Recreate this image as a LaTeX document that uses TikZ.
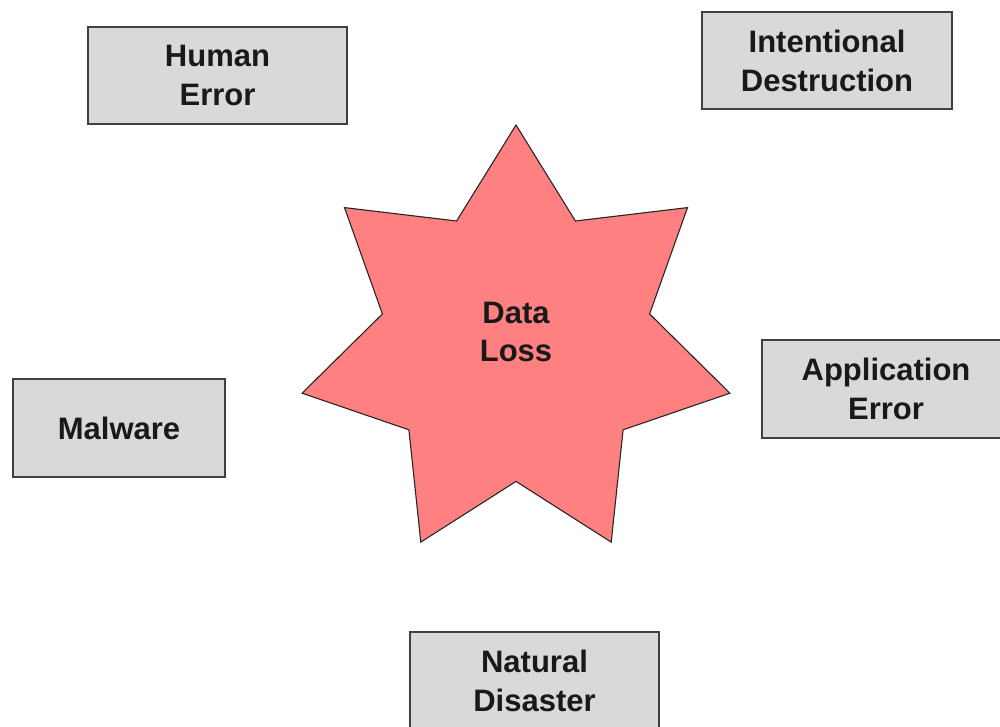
\documentclass[tikz,border=0pt]{standalone}
\usepackage{fontspec}
\setmainfont{Liberation Sans}
\definecolor{starred}{HTML}{FF8080}
\begin{document}
\begin{tikzpicture}[x=1pt,y=-1pt,
  causebox/.style={draw=black!75,line width=1.8pt,fill=black!15,rectangle,inner sep=0pt,
    font=\bfseries\fontsize{31}{39}\selectfont,align=center,text=black!90},
  starshape/.style={draw=black!85,line width=1.1pt,fill=starred,line join=miter},
  losstext/.style={font=\bfseries\fontsize{31}{38.5}\selectfont,align=center,text=black!90}]
\useasboundingbox (0,0) rectangle (1000,726);
\clip (0,0) rectangle (1000,726);
\node[causebox,minimum width=259pt,minimum height=97pt] (human) at (217.5,75.5) {Human\\Error};
\node[causebox,minimum width=250pt,minimum height=97pt] (intent) at (827,60.5) {Intentional\\Destruction};
\node[causebox,minimum width=212pt,minimum height=98pt] (malware) at (119,428) {Malware};
\node[causebox,minimum width=248pt,minimum height=98pt] (app) at (886,389) {Application\\Error};
\node[causebox,minimum width=249pt,minimum height=97pt] (natural) at (534.5,680.5) {Natural\\Disaster};
\draw[starshape] (516,125.0) -- (575.4,221.0) -- (687.5,207.6) -- (649.6,313.9)
  -- (729.9,393.2) -- (623.1,429.8) -- (611.2,542.1) -- (516,481.4)
  -- (420.8,542.1) -- (408.9,429.8) -- (302.1,393.2) -- (382.4,313.9)
  -- (344.5,207.6) -- (456.6,221.0) -- cycle;
\node[losstext] (loss) at (516,332) {Data\\Loss};
\end{tikzpicture}
\end{document}
